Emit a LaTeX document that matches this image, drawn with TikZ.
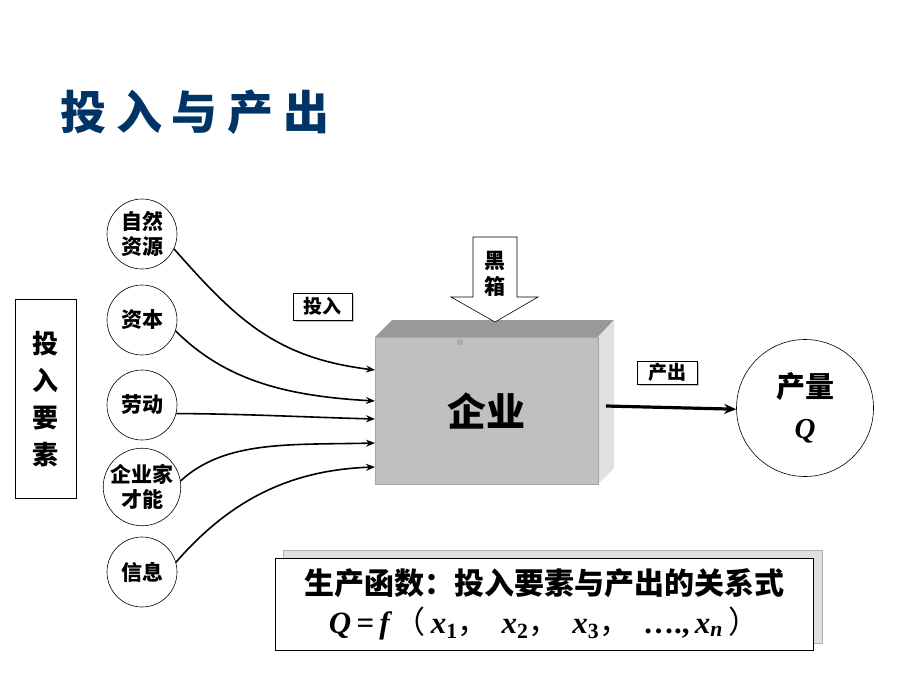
\documentclass[tikz,border=0pt]{standalone}
\usepackage{fontspec}
\setmainfont{Liberation Serif}
\newfontfamily\cjk{Noto Sans CJK SC}
\usetikzlibrary{arrows.meta}
\definecolor{titleblue}{RGB}{0,51,102}
\definecolor{frontgray}{RGB}{192,192,192}
\definecolor{topgray}{RGB}{153,153,153}
\definecolor{sidegray}{RGB}{224,224,224}
\begin{document}
\begin{tikzpicture}[x=1pt,y=-1pt,
  titlech/.style={font=\cjk\bfseries\fontsize{46}{46}\selectfont,text=titleblue,inner sep=0pt},
  inp/.style={circle,draw,line width=0.6pt,minimum size=70pt,inner sep=0pt,align=center,
    font=\cjk\bfseries\fontsize{21}{25}\selectfont},
  flow/.style={line width=1.6pt,-{Stealth[length=9pt,width=7pt]}},
  tag/.style={draw,line width=0.6pt,fill=white,inner sep=0pt,font=\cjk\bfseries\fontsize{19}{19}\selectfont},
  shadowbox/.style={fill=gray!45},
  ]
\useasboundingbox (0,0) rectangle (920,690);
% title
\foreach \c/\x/\i in {投/83/1,入/139/2,与/194/3,产/250/4,出/306/5}
  \node[titlech] (t\i) at (\x,112) {\c};
% left factors box
\node[draw,line width=0.6pt,minimum width=61pt,minimum height=199pt,inner sep=0pt,align=center,
  font=\cjk\bfseries\fontsize{26}{37}\selectfont] (factors) at (45.5,399) {投\\入\\要\\素};
% input circles
\node[inp] (c1) at (142,234) {自然\\资源};
\node[inp] (c2) at (142,320) {资本};
\node[inp] (c3) at (142,405) {劳动};
\node[inp] (c4) at (142,487) {企业家\\才能};
\node[inp] (c5) at (142,572) {信息};
% firm 3D box
\fill[topgray] (375,337)--(392,320)--(614,320)--(598,337)--cycle;
\fill[sidegray] (598,337)--(614,320)--(614,468)--(598,484)--cycle;
\node[fill=frontgray,draw=gray!70,line width=0.4pt,minimum width=223pt,minimum height=147pt,inner sep=0pt,
  font=\cjk\bfseries\fontsize{39}{39}\selectfont] (firm) at (486.5,410.5) {企业};
\fill[gray!65] (457,339) rectangle (463,345);
% black box arrow
\draw[line width=0.6pt,fill=white] (473,237)--(517,237)--(517,297)--(538,297)--(495,322)--(451,297)--(473,297)--cycle;
\node[align=center,inner sep=0pt,font=\cjk\bfseries\fontsize{21}{26}\selectfont] (bb) at (495,274) {黑\\箱};
% tags
\fill[shadowbox] (295,295) rectangle (354,322);
\node[tag,minimum width=59pt,minimum height=27pt] (tagin) at (322.5,306.5) {投入};
\fill[shadowbox] (639,363) rectangle (699,386);
\node[tag,minimum width=60pt,minimum height=23pt] (tagout) at (667,372.5) {产出};
% input arrows
\coordinate (e1) at (375,370);
\coordinate (e2) at (375,401);
\coordinate (e3) at (375,419);
\coordinate (e4) at (375,443);
\coordinate (e5) at (375,467);
\draw[flow] (c1.-25) .. controls (235,318) and (275,358) .. (e1);
\draw[flow] (c2.-18) .. controls (225,380) and (285,396) .. (e2);
\draw[flow] (c3.-14) .. controls (250,414) and (300,417) .. (e3);
\draw[flow] (c4.9) .. controls (225,440) and (290,445) .. (e4);
\draw[flow] (c5.16) .. controls (230,500) and (290,470) .. (e5);
% output
\node[circle,draw,line width=0.6pt,minimum size=137pt,inner sep=0pt,align=center,
  font=\cjk\bfseries\fontsize{29}{41}\selectfont] (q) at (805,408)
  {产量\\{\fontspec{Liberation Serif}\bfseries\itshape Q}};
\coordinate (outs) at (606,406);
\draw[line width=3.2pt,-{Stealth[length=12pt,width=10pt]}] (outs) -- (q.181);
% production function box
\fill[gray!25] (283,550) rectangle (822,643);
\draw[gray!60,line width=0.4pt] (283,550) rectangle (822,643);
\node[fill=white,draw,line width=0.6pt,minimum width=538pt,minimum height=92pt,inner sep=0pt,align=center,
  font=\fontsize{30}{39}\selectfont] (pf) at (544,604)
  {{\cjk\bfseries 生产函数：投入要素与产出的关系式}\\
   {\fontsize{31}{39}\selectfont
   {\bfseries\itshape Q\,=\,f\,}{\cjk（}\,{\bfseries\itshape x}\textsubscript{\bfseries 1}{\cjk ，}\,
   {\bfseries\itshape x}\textsubscript{\bfseries 2}{\cjk ，}\,
   {\bfseries\itshape x}\textsubscript{\bfseries 3}{\cjk ，}\,
   {\bfseries ….,\,}{\bfseries\itshape x\textsubscript{n}}\,{\cjk ）}}};
\end{tikzpicture}
\end{document}
